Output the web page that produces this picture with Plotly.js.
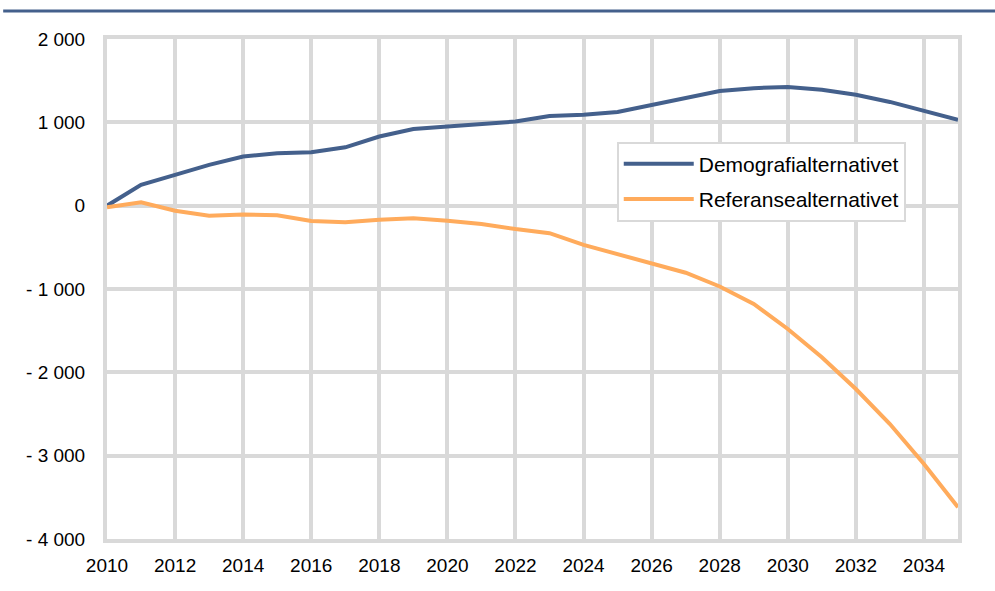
<!DOCTYPE html>
<html>
<head>
<meta charset="utf-8">
<script src="https://cdn.plot.ly/plotly-3.0.1.min.js"></script>
<style>html,body{margin:0;padding:0;background:#fff;}#chart{width:995px;height:591px;}</style>
</head>
<body>
<div id="chart"></div>
<script>
const years = [2010,2011,2012,2013,2014,2015,2016,2017,2018,2019,2020,2021,2022,2023,2024,2025,2026,2027,2028,2029,2030,2031,2032,2033,2034,2035];
const demografi = [0,250,370,490,590,630,640,700,830,920,950,980,1010,1075,1090,1125,1210,1295,1375,1410,1425,1390,1330,1245,1140,1030];
const referanse = [-20,40,-60,-120,-105,-115,-185,-200,-170,-150,-180,-220,-280,-330,-470,-580,-695,-805,-970,-1180,-1480,-1820,-2200,-2620,-3100,-3620];
const xTicks = [2010,2012,2014,2016,2018,2020,2022,2024,2026,2028,2030,2032,2034];
const yTicks = [-4000,-3000,-2000,-1000,0,1000,2000];
const yTickText = ['- 4 000','- 3 000','- 2 000','- 1 000','0','1 000','2 000'];
const seriesNames = ['Demografialternativet','Referansealternativet'];

const FONT = 'Liberation Sans, Arial, sans-serif';
const traces = [
  {x: years, y: demografi, name: seriesNames[0], mode: 'lines', legendgroup: 'a',
   line: {color: '#44608c', width: 4}},
  {x: years, y: referanse, name: seriesNames[1], mode: 'lines', legendgroup: 'b',
   line: {color: '#ffab5c', width: 4}}
];

const layout = {
  width: 995, height: 591,
  margin: {l: 107, r: 37, t: 39, b: 52},
  paper_bgcolor: '#fff', plot_bgcolor: '#fff',
  font: {family: FONT, size: 19, color: '#000'},
  showlegend: true,
  legend: {x: 0.599, y: 0.795, xanchor: 'left', yanchor: 'top',
           bgcolor: '#fff', bordercolor: '#d9d9d9', borderwidth: 2,
           tracegroupgap: 5, itemwidth: 70, entrywidth: 300, entrywidthmode: 'pixels',
           font: {family: FONT, size: 21, color: '#000'}},
  xaxis: {range: [2010, 2035], tickvals: xTicks, ticktext: xTicks.map(String),
          showgrid: true, gridcolor: '#d9d9d9', gridwidth: 4,
          showline: true, linecolor: '#d9d9d9', linewidth: 4, mirror: true,
          zeroline: false, ticks: '', ticklabelstandoff: 6, fixedrange: true,
          tickfont: {family: FONT, size: 19, color: '#000'}},
  yaxis: {range: [-4000, 2000], tickvals: yTicks, ticktext: yTickText,
          showgrid: true, gridcolor: '#d9d9d9', gridwidth: 4,
          showline: true, linecolor: '#d9d9d9', linewidth: 4, mirror: true,
          zeroline: false, ticks: '', ticklabelstandoff: 14, fixedrange: true,
          tickfont: {family: FONT, size: 19, color: '#000'}},
  shapes: [{type: 'line', xref: 'paper', yref: 'paper',
            x0: -0.122, x1: 1.0435, y0: 1.056, y1: 1.056,
            line: {color: '#44608c', width: 3}}]
};

Plotly.newPlot('chart', traces, layout, {displayModeBar: false, staticPlot: true});
</script>
</body>
</html>
